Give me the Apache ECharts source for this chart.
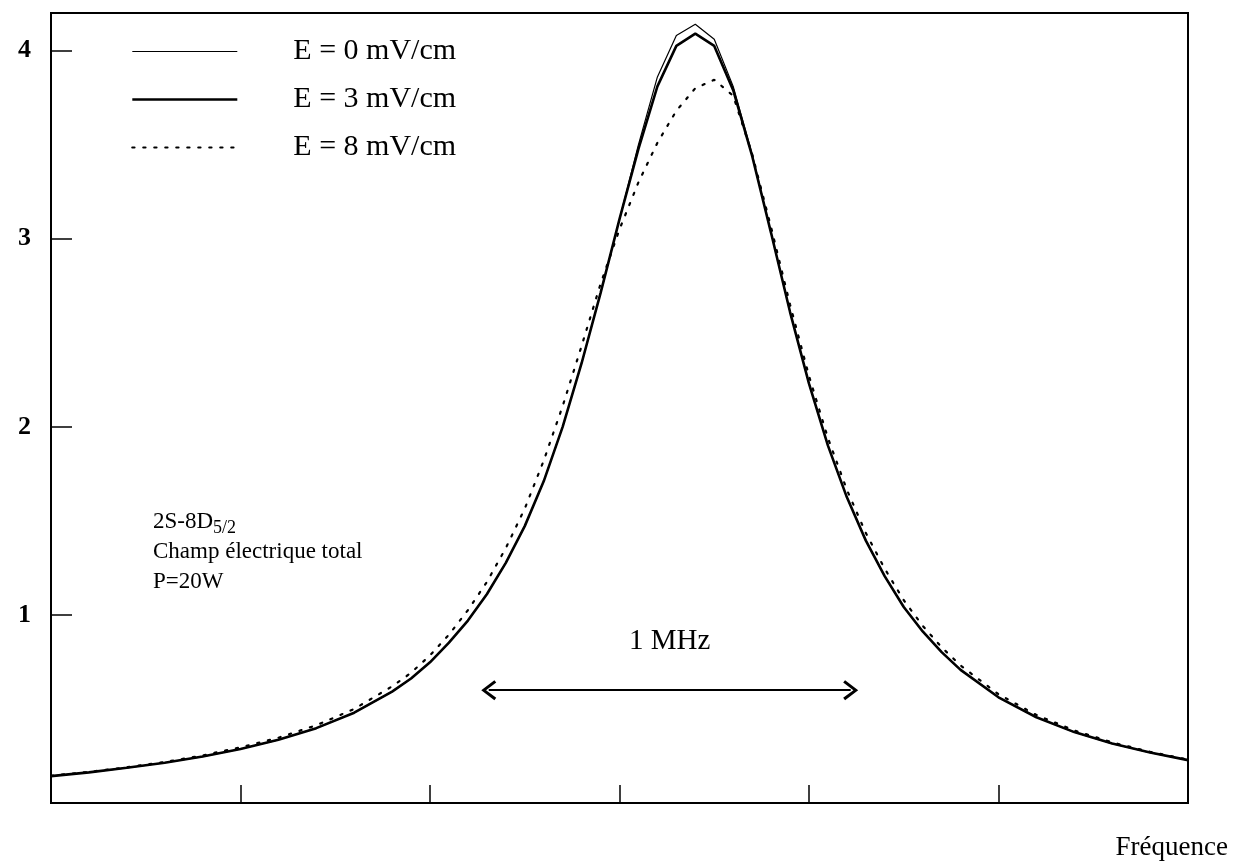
<!DOCTYPE html>
<html>
<head>
<meta charset="utf-8">
<script src="https://cdn.jsdelivr.net/npm/echarts@6/dist/echarts.min.js"></script>
<style>
  html, body { margin: 0; padding: 0; background: #fff; }
  #chart { width: 1240px; height: 867px; }
</style>
</head>
<body>
<div id="chart"></div>
<script>
// Frequency samples (MHz, arbitrary origin)
const freq = [0, 0.1, 0.2, 0.3, 0.4, 0.5, 0.6, 0.7, 0.8, 0.9, 0.95, 1.0, 1.05, 1.1, 1.15, 1.2, 1.25, 1.3, 1.35,
  1.4, 1.45, 1.5, 1.55, 1.6, 1.65, 1.7, 1.75, 1.8, 1.85, 1.9, 1.95, 2.0, 2.05, 2.1, 2.15, 2.2, 2.25,
  2.3, 2.35, 2.4, 2.5, 2.6, 2.7, 2.8, 2.9, 3.0];

// Signal for E = 0 mV/cm
const signalE0 = [0.143, 0.163, 0.187, 0.214, 0.247, 0.287, 0.336, 0.398, 0.480, 0.592, 0.662, 0.748, 0.853, 0.970, 1.110, 1.277, 1.472, 1.710, 2.000,
  2.338, 2.711, 3.104, 3.500, 3.860, 4.080, 4.140, 4.060, 3.810, 3.450, 3.030, 2.610, 2.230, 1.900, 1.625, 1.395, 1.205, 1.042,
  0.912, 0.802, 0.708, 0.562, 0.456, 0.377, 0.316, 0.268, 0.228];

// Signal for E = 3 mV/cm
const signalE3 = [0.143, 0.163, 0.187, 0.214, 0.247, 0.287, 0.336, 0.398, 0.480, 0.592, 0.662, 0.748, 0.853, 0.970, 1.110, 1.277, 1.472, 1.710, 2.000,
  2.338, 2.711, 3.104, 3.478, 3.810, 4.025, 4.090, 4.025, 3.790, 3.440, 3.030, 2.610, 2.230, 1.900, 1.625, 1.395, 1.205, 1.042,
  0.912, 0.802, 0.708, 0.562, 0.456, 0.377, 0.316, 0.268, 0.228];

// Signal for E = 8 mV/cm
const signalE8 = [0.145, 0.165, 0.190, 0.218, 0.253, 0.296, 0.347, 0.413, 0.500, 0.620, 0.692, 0.785, 0.895, 1.025, 1.175, 1.355, 1.565, 1.820, 2.110,
  2.430, 2.760, 3.050, 3.300, 3.510, 3.680, 3.800, 3.845, 3.760, 3.450, 3.060, 2.650, 2.270, 1.940, 1.665, 1.435, 1.245, 1.078,
  0.942, 0.828, 0.731, 0.578, 0.468, 0.386, 0.322, 0.272, 0.231];

const seriesNames = ['E = 0 mV/cm', 'E = 3 mV/cm', 'E = 8 mV/cm'];
const yTicks = [1, 2, 3, 4];

// 1 MHz width marker
const widthArrow = { from: 1.155, to: 2.11, level: 0.6, label: '1 MHz' };

const infoLines = ['2S-8D', '5/2', 'Champ électrique total', 'P=20W'];
const xAxisName = 'Fréquence';

const SERIF = '"Liberation Serif", "Times New Roman", serif';
// open arrow head, pointing up before rotation
const chevron = 'path://M10,0 L20,12.6 L17.6,14.4 L10,4.6 L2.4,14.4 L0,12.6 Z';

function pairs(ys) { return freq.map((f, i) => [f, ys[i]]); }

const chart = echarts.init(document.getElementById('chart'), null, { renderer: 'canvas' });

const lineStyles = [
  { color: '#000', width: 1.2 },
  { color: '#000', width: 2.6 },
  { color: '#000', width: 2.2, type: [2.2, 8.8], cap: 'round' }
];

chart.setOption({
  backgroundColor: '#fff',
  animation: false,
  grid: {
    left: 51, right: 52, top: 13, bottom: 64,
    show: true, borderColor: '#000', borderWidth: 2
  },
  legend: {
    orient: 'vertical',
    left: 126, top: 30,
    itemWidth: 105, itemHeight: 14, itemGap: 15,
    itemStyle: { opacity: 0 },
    data: seriesNames.map((n, i) => ({ name: n, lineStyle: lineStyles[i] })),
    textStyle: {
      fontFamily: SERIF, fontSize: 30, color: '#000', lineHeight: 33,
      padding: [0, 0, 0, 51]
    }
  },
  xAxis: {
    type: 'value', min: 0, max: 3, interval: 0.5,
    name: xAxisName, nameLocation: 'end', nameGap: 40,
    nameTextStyle: {
      fontFamily: SERIF, fontSize: 27, color: '#000',
      align: 'right', verticalAlign: 'top', padding: [31, 0, 0, 0]
    },
    axisLine: { show: true, lineStyle: { color: '#000', width: 2 } },
    axisTick: { show: true, inside: true, length: 18, lineStyle: { color: '#000', width: 1.5 } },
    axisLabel: { show: false },
    splitLine: { show: false }
  },
  yAxis: {
    type: 'value', min: 0, max: 4.2, interval: 1,
    axisLine: { show: true, lineStyle: { color: '#000', width: 2 } },
    axisTick: {
      show: true, inside: true, length: 21, lineStyle: { color: '#000', width: 1.5 },
      customValues: yTicks
    },
    axisLabel: {
      show: true, margin: 20, color: '#000',
      fontFamily: SERIF, fontSize: 26, fontWeight: 'bold',
      customValues: yTicks,
      formatter: v => String(v)
    },
    splitLine: { show: false }
  },
  series: [
    {
      name: seriesNames[0], type: 'line', data: pairs(signalE0),
      symbol: 'none', smooth: false, z: 3,
      lineStyle: lineStyles[0],
      itemStyle: { color: '#000' }
    },
    {
      name: seriesNames[1], type: 'line', data: pairs(signalE3),
      symbol: 'none', smooth: false, z: 4,
      lineStyle: lineStyles[1],
      itemStyle: { color: '#000' },
      markLine: {
        silent: true,
        symbol: [chevron, chevron],
        symbolSize: [20, 15],
        lineStyle: { color: '#000', width: 2, type: 'solid' },
        label: {
          show: true, position: 'middle', distance: 34,
          formatter: widthArrow.label,
          fontFamily: SERIF, fontSize: 29, color: '#000'
        },
        data: [[
          { coord: [widthArrow.from, widthArrow.level] },
          { coord: [widthArrow.to, widthArrow.level] }
        ]]
      }
    },
    {
      name: seriesNames[2], type: 'line', data: pairs(signalE8),
      symbol: 'none', smooth: false, z: 5,
      lineStyle: lineStyles[2],
      itemStyle: { color: '#000' }
    }
  ],
  graphic: [
    {
      type: 'text', left: 153, top: 507, silent: true,
      style: {
        text: '{a|' + infoLines[0] + '}{s|' + infoLines[1] + '}\n{a|' + infoLines[2] + '}\n{a|' + infoLines[3] + '}',
        fill: '#000',
        rich: {
          a: { fontFamily: SERIF, fontSize: 23, lineHeight: 30, fill: '#000' },
          s: { fontFamily: SERIF, fontSize: 18, lineHeight: 30, padding: [12, 0, 0, 0], fill: '#000' }
        }
      }
    }
  ]
});
</script>
</body>
</html>
